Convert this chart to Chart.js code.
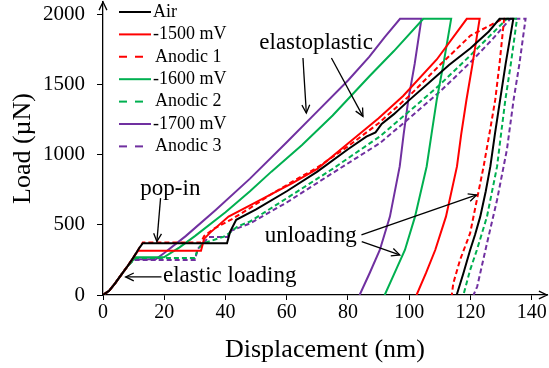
<!DOCTYPE html>
<html>
<head>
<meta charset="utf-8">
<script src="https://cdn.jsdelivr.net/npm/chart.js@4"></script>
<style>
  html, body { margin: 0; padding: 0; background: #fff; }
  canvas { display: block; }
</style>
</head>
<body>
<canvas id="loadChart" width="549" height="368"></canvas>
<script>
// Load-displacement curves, [displacement nm, load µN]
const air = [[0,0],[2,30],[4,85],[6,145],[8,205],[10,270],[12,340],[13,369],[40.5,369],[41.5,450],[43.5,536],[50,610],[60,740],[70,880],[80,1040],[86,1130],[89,1160],[91,1220],[95,1290],[100,1390],[107,1524],[113,1640],[120,1760],[126,1880],[129.5,1970],
  [134,1970],[131.5,1650],[129.7,1393],[128,1150],[126.5,917],[125,740],[123.2,559],[121.5,430],[119.9,321],[117.7,155],[115.5,0]];
const mv1500 = [[0,0],[2,30],[4,85],[6,145],[8,205],[10,270],[11.5,316],[32,316],[33,400],[35,445],[41,560],[48,640],[55,720],[62,800],[70,900],[80,1080],[90,1260],[98,1420],[109,1680],[118.8,1970],
  [123,1970],[120.7,1650],[118.7,1393],[117,1150],[115.6,917],[112,559],[108.5,321],[105.5,157],[102.4,0]];
const anodic1 = [[0,0],[2,30],[4,85],[6,145],[8,205],[10,270],[12,340],[13,375],[32,375],[33,420],[36,470],[42,540],[48,620],[55,720],[62,810],[70,910],[80,1060],[90,1225],[100,1420],[110,1640],[120,1850],[130.5,1970],
  [131,1970],[129.5,1650],[128.1,1393],[126.2,1150],[124.3,917],[122.1,679],[119.9,441],[116.6,250],[114.4,84],[113.9,0]];
const mv1600 = [[0,0],[2,30],[4,85],[6,145],[8,205],[10.6,269],[19.9,269],[25,340],[30,420],[40,590],[48,740],[55,880],[65,1070],[75,1280],[87,1560],[95,1740],[104.6,1970],
  [113.7,1970],[111.2,1650],[109,1393],[107.3,1150],[105.7,917],[101.9,559],[98.6,321],[95.9,190],[92,0]];
const anodic2 = [[0,0],[2,30],[4,85],[6,145],[8,205],[10.6,264],[30,264],[31,330],[33,370],[40,420],[44,490],[48,524],[60,690],[75,900],[90.4,1131],[100,1310],[110,1500],[120,1710],[131.9,1970],
  [135.2,1970],[133.2,1650],[131.4,1393],[130,1150],[128.7,917],[125.4,559],[122.1,321],[119.9,179],[117.7,0]];
const mv1700 = [[0,0],[2,30],[4,85],[6,145],[8,205],[9.9,255],[17.2,255],[20,300],[27,420],[36.8,607],[48,830],[60,1090],[70,1310],[80,1530],[87,1700],[92,1840],[97,1970],
  [104,1970],[101.8,1650],[99.7,1390],[98.2,1150],[96.9,917],[93.7,559],[90.4,321],[87.1,157],[83.8,0]];
const anodic3 = [[0,0],[2,30],[4,85],[6,145],[8,205],[9.9,250],[30,250],[31,330],[34.6,414],[40.6,414],[42,460],[48,510],[60,660],[75,870],[90.4,1083],[100,1260],[110,1450],[120,1660],[127,1820],[133,1970],
  [138,1970],[136,1650],[134.1,1393],[131.9,1036],[128.7,679],[125.4,369],[122.2,60],[121,0]];

const seriesNames = ['Air', '-1500 mV', 'Anodic 1', '-1600 mV', 'Anodic 2', '-1700 mV', 'Anodic 3'];
const seriesData = [air, mv1500, anodic1, mv1600, anodic2, mv1700, anodic3];
const seriesColors = ['#000000', '#ff0000', '#ff0000', '#00b050', '#00b050', '#7030a0', '#7030a0'];
const seriesDashed = [false, false, true, false, true, false, true];

const xTicks = [0, 20, 40, 60, 80, 100, 120, 140];
const yTicks = [0, 500, 1000, 1500, 2000];

// text labels with arrows, in data units
const notes = [
  { text: 'elastoplastic', x: 69.6, y: 1755, align: 'center',
    arrows: [[65.3, 1691, 66.4, 1298], [74.6, 1691, 84.9, 1274]] },
  { text: 'pop-in', x: 22.0, y: 714, align: 'center',
    arrows: [[18.8, 691, 17.6, 381]] },
  { text: 'elastic loading', x: 19.6, y: 95, align: 'left',
    arrows: [[19.1, 129, 7.4, 129]] },
  { text: 'unloading', x: 52.8, y: 381, align: 'left',
    arrows: [[84.4, 429, 122, 714], [84.5, 381, 96.9, 286]] }
];

const serif = '"Liberation Serif", "Times New Roman", serif';

function arrowHead(ctx, x1, y1, x2, y2, size) {
  const a = Math.atan2(y2 - y1, x2 - x1);
  ctx.beginPath();
  ctx.moveTo(x2 - size * Math.cos(a - 0.45), y2 - size * Math.sin(a - 0.45));
  ctx.lineTo(x2, y2);
  ctx.lineTo(x2 - size * Math.cos(a + 0.45), y2 - size * Math.sin(a + 0.45));
  ctx.stroke();
}

const decorations = {
  id: 'decorations',
  afterDatasetsDraw(chart) {
    const ctx = chart.ctx;
    const xs = chart.scales.x, ys = chart.scales.y;
    const area = chart.chartArea;
    ctx.save();

    // axis arrows
    ctx.strokeStyle = '#000';
    ctx.lineWidth = 1.3;
    arrowHead(ctx, area.left, area.top + 20, area.left, area.top, 9);
    arrowHead(ctx, area.right - 20, area.bottom, area.right, area.bottom, 9);

    // legend
    ctx.font = '18px ' + serif;
    ctx.textBaseline = 'middle';
    ctx.fillStyle = '#000';
    chart.data.datasets.forEach((ds, i) => {
      const yy = 12 + i * 22.4;
      ctx.strokeStyle = ds.borderColor;
      ctx.lineWidth = 2;
      ctx.setLineDash(seriesDashed[i] ? [8, 8] : []);
      ctx.beginPath();
      ctx.moveTo(119, yy);
      ctx.lineTo(seriesDashed[i] ? 145 : 151, yy);
      ctx.stroke();
      ctx.setLineDash([]);
      ctx.fillText(ds.label, seriesDashed[i] ? 155 : 153, yy);
    });

    // annotations
    ctx.font = '23px ' + serif;
    ctx.textBaseline = 'alphabetic';
    ctx.strokeStyle = '#000';
    ctx.lineWidth = 1.3;
    notes.forEach(n => {
      ctx.textAlign = n.align;
      ctx.fillText(n.text, xs.getPixelForValue(n.x), ys.getPixelForValue(n.y));
      n.arrows.forEach(a => {
        const x1 = xs.getPixelForValue(a[0]), y1 = ys.getPixelForValue(a[1]);
        const x2 = xs.getPixelForValue(a[2]), y2 = ys.getPixelForValue(a[3]);
        ctx.beginPath();
        ctx.moveTo(x1, y1);
        ctx.lineTo(x2, y2);
        ctx.stroke();
        arrowHead(ctx, x1, y1, x2, y2, 9);
      });
    });
    ctx.restore();
  }
};

new Chart(document.getElementById('loadChart'), {
  type: 'scatter',
  data: {
    datasets: seriesNames.map((name, i) => ({
      label: name,
      data: seriesData[i].map(p => ({ x: p[0], y: p[1] })),
      showLine: true,
      borderColor: seriesColors[i],
      backgroundColor: seriesColors[i],
      borderWidth: 2,
      borderDash: seriesDashed[i] ? [5, 3] : [],
      pointRadius: 0,
      tension: 0
    }))
  },
  options: {
    responsive: false,
    animation: false,
    devicePixelRatio: 1,
    layout: { padding: { top: 2, right: 2, left: 0, bottom: 0 } },
    plugins: { legend: { display: false }, tooltip: { enabled: false } },
    scales: {
      x: {
        type: 'linear', min: 0, max: 145,
        afterBuildTicks: s => { s.ticks = xTicks.map(v => ({ value: v })); },
        afterFit: s => { s.height = 73; s.paddingLeft = 0; s.paddingRight = 0; },
        ticks: { font: { family: serif, size: 20 }, color: '#000', padding: 1, maxRotation: 0, autoSkip: false,
                 callback: v => String(v) },
        grid: { drawOnChartArea: false, tickLength: 5, color: '#000', lineWidth: 1 },
        border: { color: '#000', width: 1.3 },
        title: { display: true, text: 'Displacement (nm)', color: '#000',
                 font: { family: serif, size: 26 }, padding: { top: 0, bottom: 2 } }
      },
      y: {
        type: 'linear', min: 0, max: 2090,
        afterBuildTicks: s => { s.ticks = yTicks.map(v => ({ value: v })); },
        afterFit: s => { s.width = 103; s.paddingTop = 0; s.paddingBottom = 0; },
        ticks: { font: { family: serif, size: 21 }, color: '#000', padding: 12,
                 callback: v => String(v) },
        grid: { drawOnChartArea: false, tickLength: 6, color: '#000', lineWidth: 1 },
        border: { color: '#000', width: 1.3 },
        title: { display: true, text: 'Load (µN)', color: '#000',
                 font: { family: serif, size: 26 }, padding: { top: 8, bottom: 0 } }
      }
    }
  },
  plugins: [decorations]
});
</script>
</body>
</html>
